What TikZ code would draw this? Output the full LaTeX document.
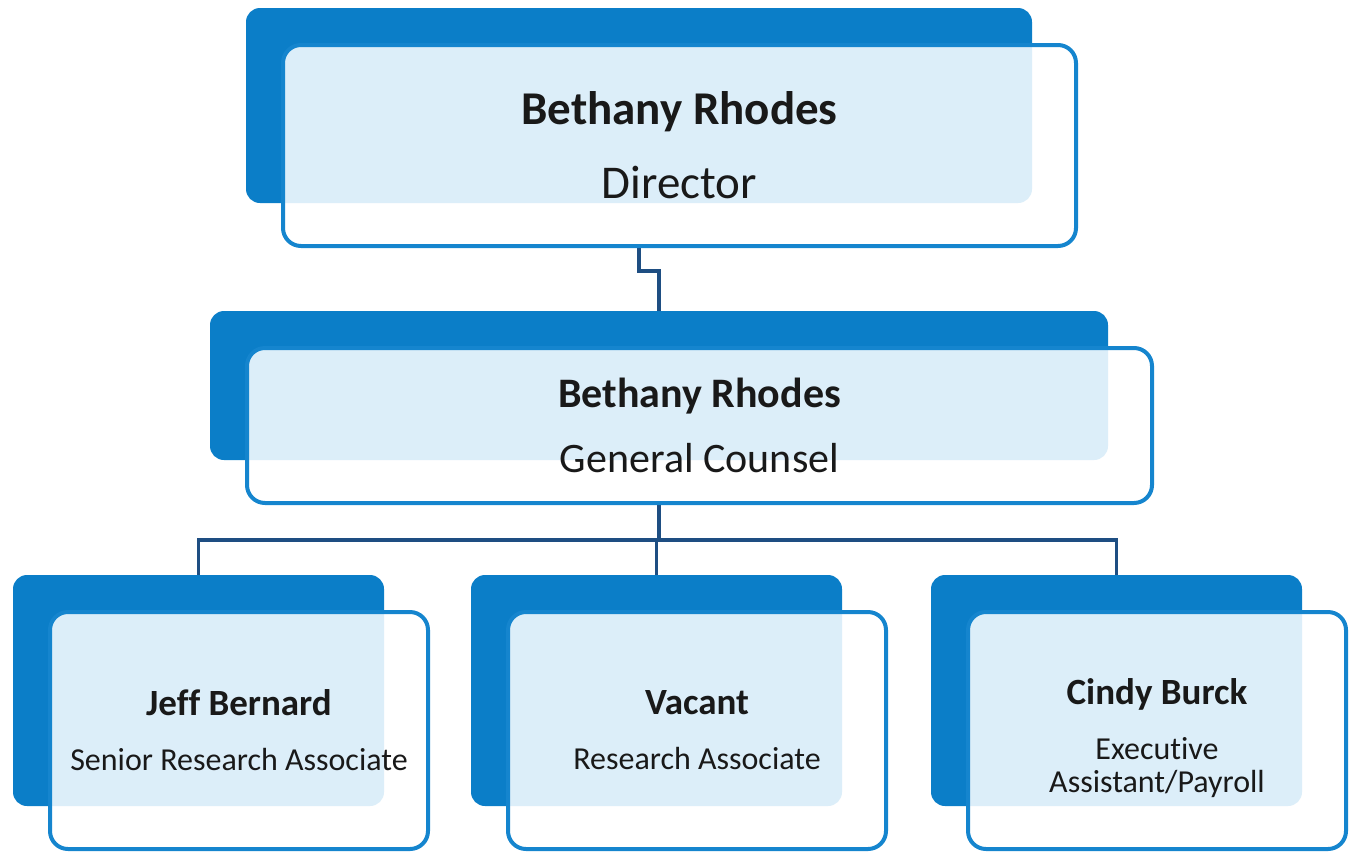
\documentclass[tikz,border=0pt]{standalone}
\usepackage{fontspec}
\setmainfont{Carlito}[Ligatures=NoCommon]
\usetikzlibrary{positioning, calc}
\pgfdeclarelayer{wires}
\pgfdeclarelayer{background}
\pgfsetlayers{wires,background,main}
\definecolor{boxblue}{HTML}{0B7EC8}
\definecolor{rimblue}{HTML}{1585CE}
\definecolor{paleblue}{HTML}{DCEEF9}
\definecolor{wireblue}{HTML}{1E4E82}
\tikzset{
    backpanel/.style={fill=boxblue, rounded corners=14pt},
    frontpanel/.style={fill=white, rounded corners=18pt},
    overlap/.style={fill=paleblue, rounded corners=14pt},
    rim/.style={draw=rimblue, line width=4pt, rounded corners=18pt},
    frontbox/.style={outer sep=0pt, inner sep=0pt, align=center, text=black!90},
}
% one card: front node with its text, blue card behind it
\newcommand{\OrgBox}[4]{
    \node[frontbox, #3] (#1) at (#2) {#4};
    \begin{pgfonlayer}{background}
      \path[backpanel] ($(#1.north west)+(-37,-37)$) coordinate (#1nw)
        rectangle ($(#1.south east)+(-44,-43)$) coordinate (#1se);
      \path[frontpanel] (#1.north west) rectangle (#1.south east);
      \begin{scope}
        \clip[rounded corners=18pt] (#1.north west) rectangle (#1.south east);
        \path[overlap] (#1nw) rectangle (#1se);
      \end{scope}
      \path[rim] (#1.north west) rectangle (#1.south east);
    \end{pgfonlayer}
    \coordinate (#1top) at ($(#1nw)!0.5!(#1se |- #1nw)$);
    \coordinate (#1bot) at ($(#1se)!0.5!(#1nw |- #1se)$);
}

\begin{document}
\begin{tikzpicture}[x=1pt, y=-1pt]
    \tikzset{
      toplevel/.style={minimum width=793pt, minimum height=201pt, font=\fontsize{47}{74}\selectfont},
      midlevel/.style={minimum width=905pt, minimum height=155pt, font=\fontsize{42}{65}\selectfont},
      staff/.style={minimum width=378pt, minimum height=237pt, font=\fontsize{32}{33}\selectfont},
      wire/.style={draw=wireblue, line width=3.5pt},
    }
    \useasboundingbox (0,0) rectangle (1354,852);

    \OrgBox{dir}{679.5,145.5}{toplevel}{\textbf{Bethany Rhodes}\\Director}
    \OrgBox{gc}{699.5,425.5}{midlevel}{\textbf{Bethany Rhodes}\\General Counsel}

    \OrgBox{jb}{239,730.5}{staff}{{\fontsize{37}{37}\selectfont\bfseries Jeff Bernard}\\[22pt]Senior Research Associate}
    \OrgBox{vc}{697,730.5}{staff}{{\fontsize{37}{37}\selectfont\bfseries Vacant}\\[22pt]Research Associate}
    \OrgBox{cb}{1157,730.5}{staff}{{\fontsize{37}{37}\selectfont\bfseries\rule{0pt}{41pt}Cindy Burck}\\[22pt]Executive\\Assistant/Payroll}

    \begin{pgfonlayer}{wires}
      \draw[wire] (dirbot) -- ++(0,68) -| (gctop);
      \draw[wire] (gcbot) -- ++(0,80) coordinate (split);
      \draw[wire] (jbtop) |- (split) -| (cbtop);
      \draw[wire] (vctop) -- (vctop |- split);
    \end{pgfonlayer}
\end{tikzpicture}
\end{document}
